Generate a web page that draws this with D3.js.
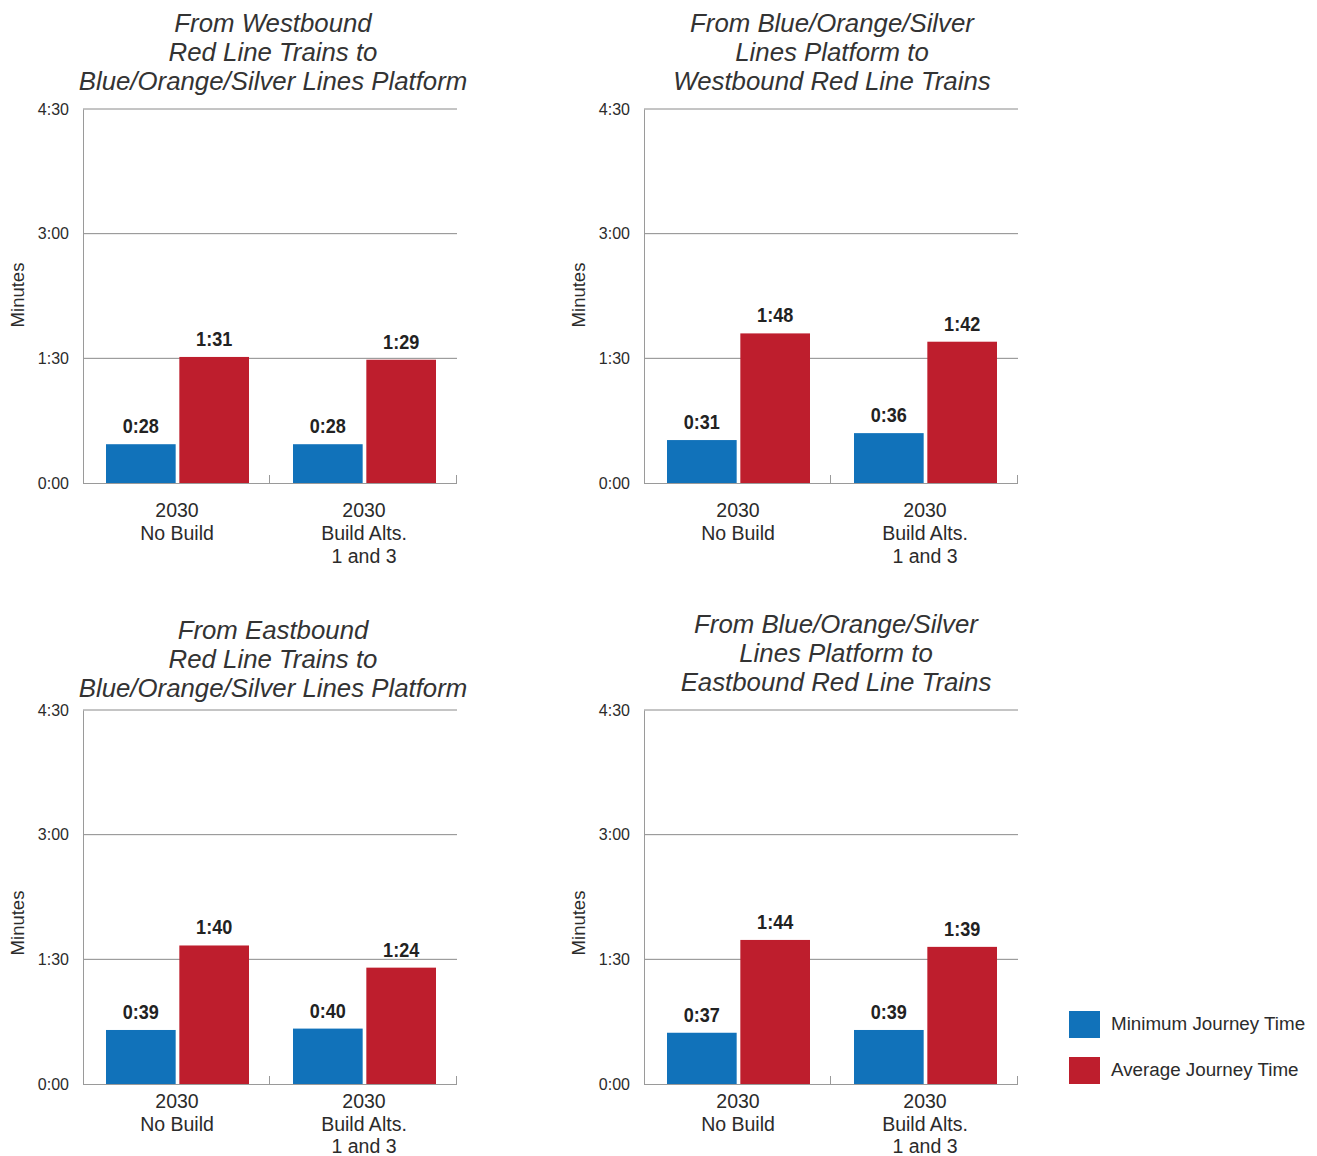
<!DOCTYPE html>
<html>
<head>
<meta charset="utf-8">
<script src="https://cdn.jsdelivr.net/npm/d3@7"></script>
<style>
  html, body { margin: 0; padding: 0; background: #fff; }
  svg { display: block; }
</style>
</head>
<body>
<svg id="chart" width="1317" height="1156"></svg>
<script>
// Journey times in seconds for each transfer movement
const categories = [["2030", "No Build"], ["2030", "Build Alts.", "1 and 3"]];
const seriesNames = ["Minimum Journey Time", "Average Journey Time"];
const seriesColors = ["#1172ba", "#be1e2d"];
const panelTitles = [
  ["From Westbound", "Red Line Trains to", "Blue/Orange/Silver Lines Platform"],
  ["From Blue/Orange/Silver", "Lines Platform to", "Westbound Red Line Trains"],
  ["From Eastbound", "Red Line Trains to", "Blue/Orange/Silver Lines Platform"],
  ["From Blue/Orange/Silver", "Lines Platform to", "Eastbound Red Line Trains"]
];
const minimumTimes = [[28, 28], [31, 36], [39, 40], [37, 39]];
const averageTimes = [[91, 89], [108, 102], [100, 84], [104, 99]];
const yTicks = [0, 90, 180, 270];

const fmt = s => Math.floor(s / 60) + ":" + String(s % 60).padStart(2, "0");

const svg = d3.select("#chart");
const plotW = 374, plotH = 374;
const layout = [
  { x: 83, y: 109, titleY: 23, minutesY: 295, catY: 34, catGap: 23, titleX: 273 },
  { x: 644, y: 109, titleY: 23, minutesY: 295, catY: 34, catGap: 23, titleX: 832 },
  { x: 83, y: 710, titleY: 630, minutesY: 923, catY: 24, catGap: 22.5, titleX: 273 },
  { x: 644, y: 710, titleY: 624, minutesY: 923, catY: 24, catGap: 22.5, titleX: 836 }
];

layout.forEach((L, p) => {
  const g = svg.append("g").attr("transform", `translate(${L.x},${L.y})`);
  const y = d3.scaleLinear().domain([0, 270]).range([plotH, 0]);
  const x0 = d3.scaleBand().domain(d3.range(categories.length)).range([0, plotW]).paddingInner(0).paddingOuter(0);
  const x1 = d3.scaleBand().domain([0, 1]).range([23, x0.bandwidth() - 21]).paddingInner(0.05);

  // gridlines
  g.selectAll("line.grid").data(yTicks.filter(t => t > 0)).join("line")
    .attr("x1", 0).attr("x2", plotW)
    .attr("y1", d => y(d)).attr("y2", d => y(d))
    .attr("stroke", "#8a8a8a").attr("stroke-width", 1);

  // y axis
  const yAxis = g.append("g").call(d3.axisLeft(y).tickValues(yTicks).tickFormat(fmt).tickSize(0).tickPadding(14));
  yAxis.select(".domain").attr("stroke", "#9a9a9a");
  yAxis.selectAll("text").attr("font-family", "Liberation Sans, Arial, sans-serif")
    .attr("font-size", 16).attr("fill", "#2b2b2b").attr("dy", "0.32em");

  // x axis with inward ticks at band boundaries
  const xAxisG = g.append("g").attr("transform", `translate(0,${plotH})`);
  xAxisG.append("line").attr("x1", 0).attr("x2", plotW).attr("y1", 0.5).attr("y2", 0.5)
    .attr("stroke", "#9a9a9a");
  xAxisG.selectAll("line.tick").data(categories.map((c, i) => x0(i) + x0.bandwidth())).join("line")
    .attr("x1", d => d - 0.5).attr("x2", d => d - 0.5).attr("y1", 0).attr("y2", -8)
    .attr("stroke", "#9a9a9a");

  // category labels
  categories.forEach((lines, i) => {
    const t = xAxisG.append("text").attr("text-anchor", "middle")
      .attr("font-family", "Liberation Sans, Arial, sans-serif").attr("font-size", 19.5).attr("fill", "#2b2b2b");
    lines.forEach((ln, k) => t.append("tspan")
      .attr("x", x0(i) + x0.bandwidth() / 2 + 0.5).attr("y", L.catY + k * L.catGap).text(ln));
  });

  // bars
  const rows = categories.map((c, i) => ({ i, vals: [minimumTimes[p][i], averageTimes[p][i]] }));
  const grp = g.selectAll("g.grp").data(rows).join("g").attr("transform", d => `translate(${x0(d.i)},0)`);
  grp.selectAll("rect").data(d => d.vals.map((v, s) => ({ v, s }))).join("rect")
    .attr("x", d => x1(d.s)).attr("width", x1.bandwidth())
    .attr("y", d => y(d.v)).attr("height", d => plotH - y(d.v))
    .attr("fill", d => seriesColors[d.s]);
  // value labels (narrowed bold)
  grp.selectAll("text").data(d => d.vals.map((v, s) => ({ v, s }))).join("text")
    .attr("transform", d => `translate(${x1(d.s) + x1.bandwidth() / 2},${y(d.v) - 11}) scale(0.86,1)`)
    .attr("text-anchor", "middle")
    .attr("font-family", "Liberation Sans, Arial, sans-serif")
    .attr("font-weight", "bold").attr("font-size", 21).attr("fill", "#222")
    .text(d => fmt(d.v));

  // panel title
  const tt = svg.append("text").attr("text-anchor", "middle")
    .attr("font-family", "Liberation Sans, Arial, sans-serif").attr("font-style", "italic")
    .attr("font-size", 25.8).attr("fill", "#333");
  panelTitles[p].forEach((ln, k) => tt.append("tspan")
    .attr("x", L.titleX).attr("y", L.titleY + 9 + k * 29).text(ln));

  // y axis title
  svg.append("text").attr("transform", `translate(${L.x - 59},${L.minutesY}) rotate(-90)`)
    .attr("text-anchor", "middle").attr("font-family", "Liberation Sans, Arial, sans-serif")
    .attr("font-size", 18.5).attr("fill", "#2b2b2b").text("Minutes");
});

// legend
const lg = svg.append("g").attr("transform", "translate(1069,1011)");
seriesNames.forEach((name, i) => {
  lg.append("rect").attr("x", 0).attr("y", i * 46).attr("width", 31).attr("height", 27).attr("fill", seriesColors[i]);
  lg.append("text").attr("x", 42).attr("y", i * 46 + 19)
    .attr("font-family", "Liberation Sans, Arial, sans-serif").attr("font-size", 18.8).attr("fill", "#2b2b2b")
    .text(name);
});
</script>
</body>
</html>
